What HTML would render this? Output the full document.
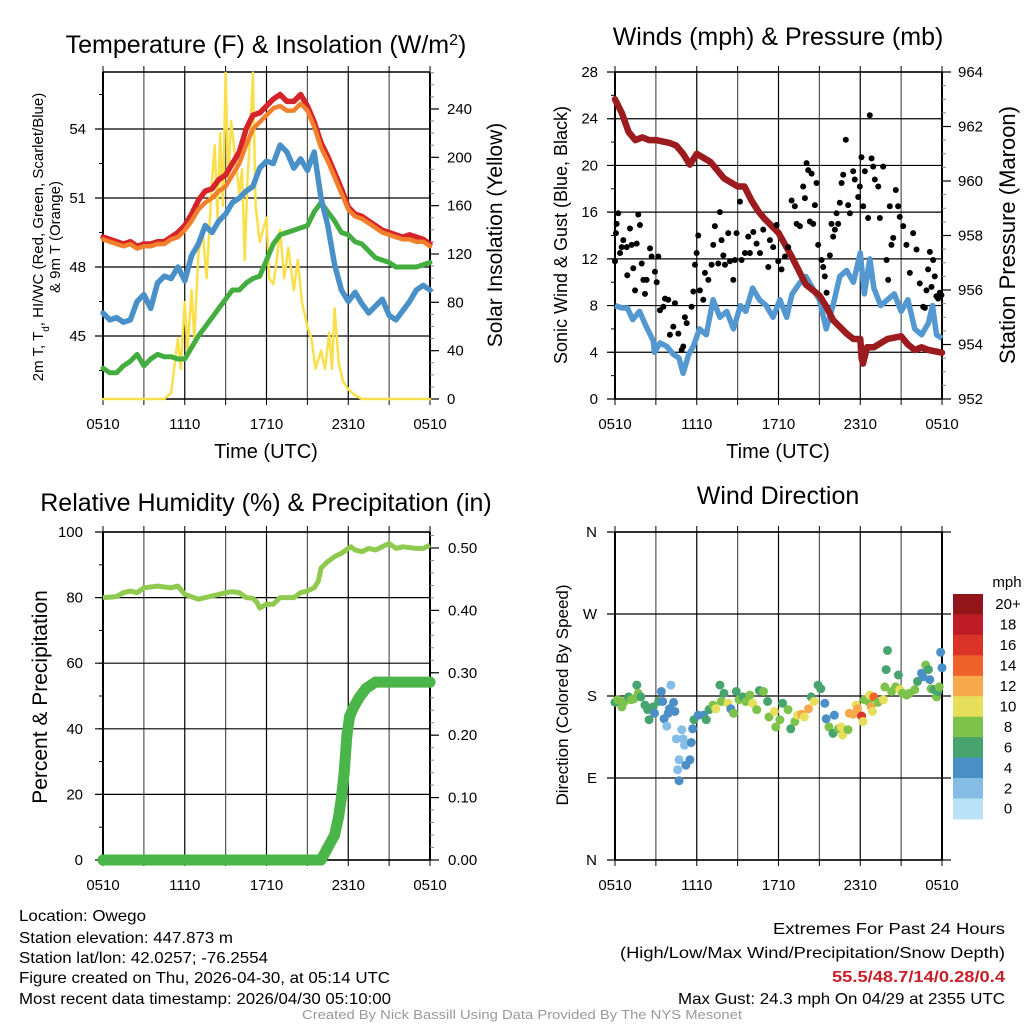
<!DOCTYPE html>
<html><head><meta charset="utf-8">
<style>
html,body{margin:0;padding:0;background:#fff;}
svg{display:block;font-family:"Liberation Sans",Arial,sans-serif;}
</style></head>
<body>
<svg id="chart" width="1024" height="1024" viewBox="0 0 1024 1024" xmlns="http://www.w3.org/2000/svg">
<text x="266" y="53" font-size="25" text-anchor="middle">Temperature (F) &amp; Insolation (W/m<tspan baseline-shift="super" font-size="16">2</tspan>)</text>
<text x="778" y="45" font-size="25" text-anchor="middle">Winds (mph) &amp; Pressure (mb)</text>
<text x="266" y="511" font-size="25" text-anchor="middle">Relative Humidity (%) &amp; Precipitation (in)</text>
<text x="778" y="504" font-size="25" text-anchor="middle">Wind Direction</text>

<g font-size="16">
<text x="19" y="921" textLength="127" lengthAdjust="spacingAndGlyphs">Location: Owego</text>
<text x="19" y="943" textLength="214" lengthAdjust="spacingAndGlyphs">Station elevation: 447.873 m</text>
<text x="19" y="963" textLength="249" lengthAdjust="spacingAndGlyphs">Station lat/lon: 42.0257; -76.2554</text>
<text x="19" y="983" textLength="371" lengthAdjust="spacingAndGlyphs">Figure created on Thu, 2026-04-30, at 05:14 UTC</text>
<text x="19" y="1004" textLength="372" lengthAdjust="spacingAndGlyphs">Most recent data timestamp: 2026/04/30 05:10:00</text>
</g>
<g font-size="16">
<text x="773" y="934" textLength="232" lengthAdjust="spacingAndGlyphs">Extremes For Past 24 Hours</text>
<text x="620" y="958" textLength="385" lengthAdjust="spacingAndGlyphs">(High/Low/Max Wind/Precipitation/Snow Depth)</text>
<text x="832" y="982" textLength="173" lengthAdjust="spacingAndGlyphs" fill="#c8202a" font-weight="bold">55.5/48.7/14/0.28/0.4</text>
<text x="678" y="1004" textLength="327" lengthAdjust="spacingAndGlyphs">Max Gust: 24.3 mph On 04/29 at 2355 UTC</text>
</g>
<text x="302" y="1019" font-size="13" fill="#999" textLength="440" lengthAdjust="spacingAndGlyphs">Created By Nick Bassill Using Data Provided By The NYS Mesonet</text>
</svg>
<script>
// ---------- DATA ----------
const xTickLabels = ["0510","1110","1710","2310","0510"];
const tempHours = [0,0.5,1,1.5,2,2.5,3,3.5,4,4.5,5,5.5,6,6.5,7,7.5,8,8.5,9,9.5,10,10.5,11,11.5,12,12.5,13,13.5,14,14.5,15,15.5,16,16.5,17,17.5,18,18.5,19,19.5,20,20.5,21,21.5,22,22.5,23,23.5,24];
const tempRed =    [49.3,49.2,49.1,49.0,49.1,48.9,49.0,49.0,49.1,49.1,49.3,49.5,49.8,50.3,50.9,51.3,51.4,51.8,52.0,52.5,53.0,54.0,54.6,54.7,55.0,55.3,55.5,55.2,55.2,55.5,55.0,54.3,53.4,52.8,52.1,51.4,50.6,50.3,50.2,50.0,49.8,49.6,49.5,49.4,49.3,49.4,49.3,49.2,49.0];
const tempOrange = [49.2,49.1,49.0,48.9,49.0,48.8,48.9,48.9,49.0,49.0,49.2,49.3,49.6,50.0,50.5,50.8,51.0,51.3,51.5,52.0,52.5,53.3,54.0,54.3,54.6,54.9,55.0,54.8,54.8,55.1,54.8,54.1,53.2,52.6,51.9,51.2,50.5,50.2,50.1,49.9,49.7,49.5,49.4,49.3,49.2,49.2,49.1,49.1,48.9];
const tempBlue =   [46.0,45.7,45.8,45.6,45.7,46.5,46.8,46.2,47.3,47.6,47.5,48.0,47.4,48.5,49.0,49.8,49.5,50.0,50.3,50.8,51.0,51.3,51.5,52.3,52.6,52.5,53.3,53.0,52.3,52.7,52.2,53.0,51.0,49.8,48.1,47.0,46.5,46.9,46.4,46.0,46.3,46.6,45.9,45.7,46.1,46.5,47.0,47.2,47.0];
const tempGreen =  [43.6,43.4,43.4,43.7,43.9,44.2,43.7,44.0,44.2,44.1,44.1,44.0,44.0,44.5,45.0,45.4,45.8,46.2,46.6,47.0,47.0,47.3,47.5,47.6,48.3,49.0,49.4,49.5,49.6,49.7,49.8,50.4,50.8,50.4,50.0,49.5,49.4,49.1,49.0,48.7,48.4,48.3,48.2,48.0,48.0,48.0,48.0,48.1,48.2];
const solarHours = [0,4.5,5,5.5,5.7,6,6.2,6.5,6.7,7,7.3,7.6,8,8.2,8.4,8.6,8.8,9,9.2,9.4,9.6,10,10.2,10.4,10.6,10.8,11,11.2,11.5,12,12.2,12.5,12.7,13,13.3,13.6,14,14.3,14.6,15,15.3,15.6,16,16.3,16.6,16.8,17,17.3,17.6,18,18.5,19,24];
const solarValues = [0,0,5,50,25,80,40,90,50,120,140,100,180,210,150,220,160,270,180,230,210,170,190,115,180,220,270,160,130,150,100,95,110,140,100,125,90,115,80,60,50,25,40,25,55,25,75,30,15,8,3,0,0];
const windHours = [0,0.5,0.9,1.3,1.8,2.3,2.8,2.9,3.3,3.8,4.3,4.7,5.0,5.4,5.75,6.2,6.7,7.2,7.7,8.2,8.7,9.2,9.6,10.1,10.6,11.1,11.6,12.1,12.6,13.0,13.6,14.0,14.5,15.0,15.5,16.0,16.5,17.0,17.5,18.0,18.3,18.7,19.0,19.5,20.0,20.5,21.0,21.5,22.0,22.5,23.0,23.3,23.6,24];
const windSpeed = [8.0,7.8,7.8,6.8,7.5,6.2,5.0,4.0,4.8,4.5,3.8,3.5,2.2,3.8,4.5,6.0,5.5,8.5,7.0,7.5,6.0,8.0,7.5,9.5,8.5,8.0,7.0,8.5,7.0,9.0,10.0,10.5,9.5,8.5,6.0,8.0,10.5,11.0,10.0,12.5,9.0,12.0,9.5,8.0,8.5,9.0,7.5,8.5,6.0,5.5,6.5,8.0,5.5,5.2];
const presHours = [0,0.5,1,1.5,2,2.5,3,4,4.5,5,5.5,6,7,7.5,8,9,9.5,10,10.5,11,12,13,14,15,15.5,16,17,17.5,18,18.1,18.2,18.5,19,20,21,21.5,22,22.5,23,24];
const presValues = [963.0,962.5,961.8,961.5,961.6,961.5,961.5,961.4,961.3,961.0,960.6,961.0,960.7,960.4,960.1,959.8,959.8,959.3,958.9,958.6,958.1,957.2,956.2,955.8,955.4,954.9,954.4,954.2,954.2,953.5,953.3,953.9,953.9,954.2,954.3,954.0,953.8,953.9,953.8,953.7];
const gustHours = [0,0.07,0.12,0.24,0.37,0.49,0.61,0.86,0.9,1.1,1.22,1.34,1.47,1.59,1.71,1.83,1.96,2.08,2.2,2.32,2.57,2.69,2.93,3.06,3.18,3.3,3.55,3.67,3.91,4.03,4.28,4.4,4.65,4.89,5.01,5.13,5.26,5.62,5.75,5.87,5.99,6.11,6.23,6.48,6.6,6.85,7.09,7.21,7.33,7.58,7.7,7.82,7.95,8.07,8.31,8.44,8.68,8.8,8.92,9.17,9.29,9.54,9.78,9.9,10.15,10.39,10.64,10.88,11.25,11.37,11.61,11.86,11.98,12.22,12.47,12.71,12.96,13.2,13.33,13.57,13.81,13.94,14.06,14.18,14.3,14.43,14.55,14.67,14.79,14.91,15.16,15.28,15.4,15.53,15.77,15.89,16.01,16.14,16.26,16.38,16.5,16.63,16.75,16.94,17.11,17.24,17.48,17.6,17.85,17.97,18.09,18.22,18.34,18.58,18.7,18.83,18.95,19.07,19.32,19.44,19.68,19.93,20.05,20.17,20.29,20.42,20.61,20.78,20.9,21.15,21.39,21.64,21.88,22.13,22.37,22.62,22.74,22.86,22.98,23.11,23.23,23.35,23.47,23.59,23.72,23.84,23.96];
const gustValues = [11.8,14.2,15,15.9,12.5,13,13.6,13,10.6,14.6,13.2,11.2,9.3,13.3,15.8,14.9,11.6,10.2,9,10.2,12.9,12.2,10.9,10,12.2,7.6,7.9,8.6,8.5,5.5,6.2,8.2,5.6,4.2,4.5,7,6.5,7.9,9.2,11.5,12.5,14,9.3,8.5,10.8,10.2,11.5,13.2,14.8,11.6,16,13.6,12.3,11.5,14.2,11.8,10.2,11.9,14.2,16.9,11.9,12.5,13.9,12.5,14.3,13.3,12.5,14.5,11.3,13.6,13,14.9,11.8,11.1,12.2,13,17,16.5,15,14.8,18.2,17.2,20.2,19.6,15.2,19.3,15,16.6,18.5,13.2,11.9,11.3,10.5,9.1,12.3,15,13.9,14.5,15.9,15,16.8,18.5,19.2,22.2,16.6,15.9,19.5,18.8,17.3,18.2,20.7,16.5,19.5,15.5,24.3,20.6,19.9,18.8,18.2,15.5,19.9,11.9,10.2,16.5,13.2,13.8,17.9,16.5,15.6,14.8,13.2,10.8,14.2,12.8,9.9,7.9,7.8,9.3,11.1,12.6,9.6,11.9,10.5,8.8,8.6,9.1,8.9];
const rhHours = [0,1,1.5,2,2.5,3,4,5,5.5,6,7,8,9,9.5,10,10.5,11,11.3,11.5,12,12.5,13,14,14.5,15,15.5,15.8,16,16.5,17,17.5,18,18.2,18.5,19,19.5,20,20.5,21,21.5,22,23,23.5,24];
const rhValues = [80,80.3,81.5,82,81.5,83,83.5,83,83.5,81,79.5,80.5,81.5,81.8,81.5,80,79.8,78.5,76.8,78,78,80,80,81.5,82,83,85,89,91,92.5,93.5,95,95.5,94.5,94,95,94.5,95.5,96.5,95,95.5,95,95,96];
const precipHours = [0,16,16.5,17,17.3,17.5,17.7,17.9,18.1,18.4,18.8,19.3,20,24];
const precipValues = [0,0,0.02,0.04,0.07,0.10,0.14,0.20,0.23,0.245,0.26,0.275,0.285,0.285];
const dirHours = [0,0.2,0.5,0.7,1,1.2,1.4,1.6,1.7,1.9,2.2,2.4,2.5,2.8,2.9,3.2,3.4,3.5,3.6,3.8,3.9,4,4.1,4.3,4.4,4.5,4.7,4.6,4.7,4.9,5,5.1,5.2,5.5,5.6,5.7,5.8,6.1,6.5,6.7,6.9,7.2,7.4,7.7,7.8,8,8.3,8.5,8.7,8.9,9.1,9.4,9.6,9.9,10.1,10.4,10.6,10.9,11.2,11.3,11.7,11.8,12.1,12.3,12.7,12.9,13.2,13.4,13.7,13.9,14.2,14.4,14.6,14.9,15.1,15.4,15.5,15.7,16,16.1,16.4,16.6,16.7,17.1,17.2,17.5,17.7,17.8,18.1,18.2,18.3,18.6,18.7,18.8,18.9,19,19.3,19.7,19.8,19.9,20,20.3,20.6,20.9,20.8,21.1,21.4,21.6,22,22.2,22.5,22.6,22.8,23,23.1,23.2,23.4,23.6,23.7,23.8,23.9,24];
const dirDegrees = [173,176,168,174,179,176,177,192,183,179,170,165,154,168,161,174,185,174,155,147,161,166,192,173,163,133,110,99,87,143,133,126,104,110,129,144,154,159,159,154,165,170,166,192,174,183,172,166,161,185,176,179,174,181,172,165,186,185,174,157,163,146,154,172,165,144,152,159,160,157,166,179,174,192,188,172,155,146,139,159,144,146,137,143,161,160,170,166,158,152,176,174,181,168,163,179,173,176,190,209,230,185,190,187,203,183,181,183,187,196,205,201,214,209,198,188,187,179,185,190,228,211];
const dirSpeeds = [7,8,8,8,7,8,8,6,8,6,6,6,6,6,4,6,4,4,4,2,4,4,2,4,4,2,2,2,4,2,2,2,4,4,4,4,6,4,4,6,6,8,10,6,8,6,10,4,8,6,8,6,8,8,10,8,6,8,6,8,10,8,8,6,8,6,8,10,12,10,12,6,10,6,6,4,4,8,6,4,8,10,10,8,12,12,10,12,16,10,8,8,10,12,10,14,8,10,8,6,6,8,8,10,6,8,8,8,8,6,4,4,8,6,4,8,6,8,6,8,4,4];
const cbarLabels = ["20+","18","16","14","12","10","8","6","4","2","0"];
const cbarColors = ["#921519","#be1d25","#dc3328","#ef6229","#f6a94a","#e7df5b","#7dc24b","#47a46e","#4a8fc6","#86bde6","#b8e3f7"];

// ---------- HELPERS ----------
const svg = document.getElementById('chart');
const NS = 'http://www.w3.org/2000/svg';
function mk(tag, attrs, parent){const e=document.createElementNS(NS,tag);for(const k in attrs)e.setAttribute(k,attrs[k]);(parent||svg).appendChild(e);return e;}
function lin(d0,d1,r0,r1){return v=>r0+(v-d0)/(d1-d0)*(r1-r0);}
function pathOf(xs,ys,sx,sy){return xs.map((h,i)=>(i?'L':'M')+sx(h).toFixed(1)+','+sy(ys[i]).toFixed(1)).join('');}

function frame(p, name){
  const g=mk('g',{});
  
  
  for(let h=0;h<=24;h+=3){
    const x=p.sx(h);
    const l=mk('line',{x1:x,y1:p.y0,x2:x,y2:p.y1,stroke:(h%6===0?'#000':'#555'),'stroke-width':(h===0||h===24)?2:1.2},g);
    
    
    mk('line',{x1:x,y1:p.y0,x2:x,y2:p.y0-6,stroke:'#000','stroke-width':1},g);
    mk('line',{x1:x,y1:p.y1,x2:x,y2:p.y1+6,stroke:'#000','stroke-width':1},g);
  }
  xTickLabels.forEach((t,i)=>{
    const tx=mk('text',{x:p.sx(i*6),y:p.y1+p.lblOff,'font-size':15,'text-anchor':'middle'},g);
    tx.textContent=t;
    
    
  });
  mk('line',{x1:p.x0,y1:p.y0,x2:p.x1,y2:p.y0,stroke:'#000','stroke-width':1.5},g);
  mk('line',{x1:p.x0,y1:p.y1,x2:p.x1,y2:p.y1,stroke:'#000','stroke-width':1.5},g);
  return g;
}
function leftAxis(p,ticks,minor,labelX,fmt){
  const g=mk('g',{});
  
  
  minor.forEach(v=>{const y=p.sy(v);mk('line',{x1:p.x0,y1:y,x2:p.x0-4,y2:y,stroke:'#000','stroke-width':1},g);});
  ticks.forEach(v=>{
    const y=p.sy(v);
    mk('line',{x1:p.x0-8,y1:y,x2:p.x1,y2:y,stroke:'#000','stroke-width':1.2},g);
    const t=mk('text',{x:labelX,y:y+5,'font-size':15,'text-anchor':'end'},g);
    t.textContent=fmt?fmt(v):v;
    
    
  });
}
function rightAxis(sy,p,ticks,minor,labelX,fmt){
  const g=mk('g',{});
  
  
  mk('line',{x1:p.x1,y1:p.y0,x2:p.x1,y2:p.y1,stroke:'#000','stroke-width':1.5},g);
  minor.forEach(v=>{const y=sy(v);mk('line',{x1:p.x1,y1:y,x2:p.x1+4,y2:y,stroke:'#888','stroke-width':1},g);});
  ticks.forEach(v=>{
    const y=sy(v);
    mk('line',{x1:p.x1,y1:y,x2:p.x1+9,y2:y,stroke:'#000','stroke-width':1.2},g);
    const t=mk('text',{x:labelX,y:y+5,'font-size':15},g);
    t.textContent=fmt?fmt(v):v;
    
    
  });
}
function vtext(x,y,txt,size,name){
  const t=mk('text',{x:0,y:0,'font-size':size,'text-anchor':'middle',transform:`translate(${x},${y}) rotate(-90)`});
  t.textContent=txt;
  
  
  return t;
}
function htext(x,y,txt,size,name){
  const t=mk('text',{x:x,y:y,'font-size':size,'text-anchor':'middle'});
  t.textContent=txt;
  
  
}
function range(a,b,s){const r=[];for(let v=a;v<=b+1e-9;v+=s)r.push(+v.toFixed(4));return r;}

// ---------- PANEL 1 ----------
const P1={x0:103,x1:430,y0:72,y1:399,lblOff:30};
P1.sx=lin(0,24,P1.x0,P1.x1); P1.sy=lin(42.26,56.48,P1.y1,P1.y0);
const p1r=lin(0,270.6,P1.y1,P1.y0);
frame(P1,'temperature');
leftAxis(P1,[45,48,51,54],range(43.5,55.5,1.5),86);
rightAxis(p1r,P1,[0,40,80,120,160,200,240],range(0,270,10),447);
[['solar-insolation-line',solarHours,solarValues,p1r,'#f9e04b',2.5],
 ['green-temperature-line',tempHours,tempGreen,P1.sy,'#43ad3f',5],
 ['blue-temperature-line',tempHours,tempBlue,P1.sy,'#4a90c8',5.5],
 ['red-temperature-line',tempHours,tempRed,P1.sy,'#d4242a',5.5],
 ['orange-temperature-line',tempHours,tempOrange,P1.sy,'#f27f2c',4.5]].forEach(s=>{
  const pth=mk('path',{d:pathOf(s[1],s[2],P1.sx,s[3]),fill:'none',stroke:s[4],'stroke-width':s[5],'stroke-linejoin':'round','stroke-linecap':'round'});
  
  
});
htext(266,458,'Time (UTC)',20,'x-axis-title');
{const t=mk('text',{x:0,y:0,'font-size':15,'text-anchor':'middle',transform:'translate(43,237) rotate(-90)'});


t.innerHTML='2m T, T<tspan baseline-shift="sub" font-size="10">d</tspan>, HI/WC (Red, Green, Scarlet/Blue)';}
vtext(60,237,'& 9m T (Orange)',15,'temperature-y-axis-title-line2');
vtext(502,235,'Solar Insolation (Yellow)',21,'insolation-y-axis-title');

// ---------- PANEL 2 ----------
const P2={x0:615,x1:942,y0:72,y1:399,lblOff:30};
P2.sx=lin(0,24,P2.x0,P2.x1); P2.sy=lin(0,28,P2.y1,P2.y0);
const p2r=lin(952,964,P2.y1,P2.y0);
frame(P2,'wind');
leftAxis(P2,range(0,28,4),range(0,28,2),598);
rightAxis(p2r,P2,range(952,964,2),range(952,964,0.5),958);
{const pth=mk('path',{d:pathOf(windHours,windSpeed,P2.sx,P2.sy),fill:'none',stroke:'#5398d0','stroke-width':5.5,'stroke-linejoin':'round'});

}
{const pth=mk('path',{d:pathOf(presHours,presValues,P2.sx,p2r),fill:'none',stroke:'#9b1b1e','stroke-width':6.5,'stroke-linejoin':'round','stroke-linecap':'round'});

}
{const g=mk('g',{});


gustHours.forEach((h,i)=>{const c=mk('circle',{cx:P2.sx(h),cy:P2.sy(gustValues[i]),r:3,fill:'#000'},g);

});}
htext(778,458,'Time (UTC)',20,'x-axis-title-wind');
vtext(567,235,'Sonic Wind & Gust (Blue, Black)',18,'wind-y-axis-title');
vtext(1015,235,'Station Pressure (Maroon)',22,'pressure-y-axis-title');

// ---------- PANEL 3 ----------
const P3={x0:103,x1:430,y0:532,y1:860,lblOff:30};
P3.sx=lin(0,24,P3.x0,P3.x1); P3.sy=lin(0,100,P3.y1,P3.y0);
const p3r=lin(0,0.5256,P3.y1,P3.y0);
frame(P3,'humidity');
leftAxis(P3,range(0,100,20),range(0,100,10),83);
rightAxis(p3r,P3,[0,0.1,0.2,0.3,0.4,0.5],range(0,0.52,0.02),448,v=>v.toFixed(2));
{const pth=mk('path',{d:pathOf(rhHours,rhValues,P3.sx,P3.sy),fill:'none',stroke:'#8fca4f','stroke-width':5,'stroke-linejoin':'round'});

}
{const pth=mk('path',{d:pathOf(precipHours,precipValues,P3.sx,p3r),fill:'none',stroke:'#4ab548','stroke-width':11,'stroke-linejoin':'round','stroke-linecap':'round'});


precipHours.forEach((h,i)=>{const c=mk('circle',{cx:P3.sx(h),cy:p3r(precipValues[i]),r:5.5,fill:'#4ab548'});

});}
vtext(47,697,'Percent & Precipitation',21,'humidity-y-axis-title');

// ---------- PANEL 4 ----------
const P4={x0:615,x1:942,y0:532,y1:860,lblOff:30};
P4.sx=lin(0,24,P4.x0,P4.x1); P4.sy=lin(0,360,P4.y1,P4.y0);
frame(P4,'direction');
leftAxis(P4,[0,90,180,270,360],[],597,v=>({0:'N',90:'E',180:'S',270:'W',360:'N'})[v]);
mk('line',{x1:P4.x1,y1:P4.y0,x2:P4.x1,y2:P4.y1,stroke:'#000','stroke-width':1.5});
[0,90,180,270,360].forEach(v=>mk('line',{x1:P4.x1,y1:P4.sy(v),x2:P4.x1+9,y2:P4.sy(v),stroke:'#000','stroke-width':1.2}));
{const g=mk('g',{});


dirHours.forEach((h,i)=>{const bin=Math.max(0,Math.min(10,Math.floor(dirSpeeds[i]/2)));
const c=mk('circle',{cx:P4.sx(h),cy:P4.sy(dirDegrees[i]),r:4.5,fill:cbarColors[10-bin]},g);

});}
vtext(568,695,'Direction (Colored By Speed)',17,'direction-y-axis-title');
{const g=mk('g',{});


const top=594,bh=20.45;
cbarLabels.forEach((l,i)=>{
  const r=mk('rect',{x:953,y:top+i*bh,width:30,height:bh+0.5,fill:cbarColors[i]},g);
  
  
  const t=mk('text',{x:1008,y:top+i*bh+bh/2+5,'font-size':15,'text-anchor':'middle'},g);
  t.textContent=l;
  
  
});
const m=mk('text',{x:1007,y:587,'font-size':15,'text-anchor':'middle'},g);
m.textContent='mph';

}
</script>
</body></html>
